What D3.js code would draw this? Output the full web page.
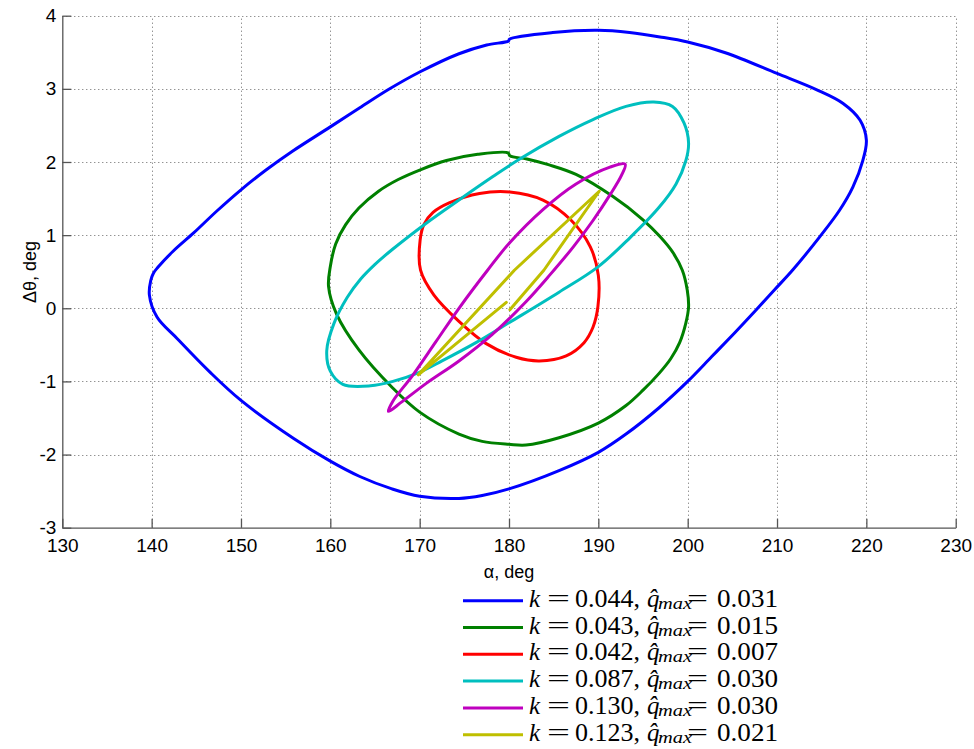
<!DOCTYPE html>
<html><head><meta charset="utf-8">
<script src="https://cdn.jsdelivr.net/npm/d3@7"></script>
<style>body{margin:0;background:#fff}</style>
</head><body>
<svg id="c" width="974" height="749"></svg>
<script>
// ---- data ----
const xTicks = [130,140,150,160,170,180,190,200,210,220,230];
const yTicks = [-3,-2,-1,0,1,2,3,4];

// [alpha (deg), delta theta (deg)]
const seriesBlue = [[139.75,0.18],[139.9,0.38],[140.2,0.48],[140.7,0.56],[142.4,0.78],[144.7,1.03],[147.3,1.33],[150,1.62],[152.8,1.89],[155.8,2.15],[160,2.48],[163.3,2.74],[166.5,2.99],[170,3.23],[174.4,3.48],[177.5,3.60],[179.95,3.655],[180.05,3.68],[184.9,3.77],[190,3.80],[193.5,3.77],[196.9,3.71],[200,3.64],[204.3,3.49],[210,3.21],[214.4,2.99],[217.4,2.80],[219.3,2.57],[220,2.30],[219.6,2.02],[218.5,1.66],[217.0,1.34],[214.8,0.98],[211.8,0.53],[209.7,0.25],[207.6,-0.03],[205.3,-0.33],[202.7,-0.66],[200,-1.0],[196.8,-1.36],[193.1,-1.72],[190,-1.97],[185.6,-2.22],[180,-2.47],[177,-2.56],[174.4,-2.60],[170,-2.57],[166.9,-2.47],[163.3,-2.30],[160,-2.09],[155.9,-1.78],[150,-1.26],[146.5,-0.87],[142.9,-0.42],[140.6,-0.12]];
const seriesGreen = [[159.8,0.30],[160.0,0.57],[160.6,0.88],[161.7,1.14],[163.2,1.37],[165.4,1.60],[167.6,1.76],[170,1.89],[173,2.02],[176.5,2.105],[179.9,2.125],[180.1,2.085],[182,2.04],[184.5,1.96],[187.5,1.83],[191.6,1.53],[195,1.21],[196.9,0.98],[198.3,0.77],[199.4,0.52],[199.95,0.25],[200.1,0.02],[199.8,-0.20],[199.1,-0.47],[198.1,-0.69],[196.8,-0.89],[195,-1.12],[193.1,-1.33],[190,-1.57],[185.6,-1.77],[181.9,-1.87],[180,-1.86],[177,-1.82],[174.4,-1.72],[170,-1.42],[166.9,-1.08],[163.2,-0.57],[160.7,-0.08]];
const seriesRed = [[170.1,0.52],[170.05,0.93],[170.5,1.15],[171.5,1.31],[173.3,1.44],[176.7,1.57],[180.1,1.59],[183.8,1.48],[186.9,1.21],[189.1,0.84],[190,0.45],[189.95,0.02],[189.4,-0.26],[188.4,-0.47],[186.4,-0.65],[183.4,-0.72],[180.8,-0.67],[177.4,-0.48],[174.4,-0.18],[171.6,0.18]];
const seriesCyan = [[159.6,-0.58],[160.4,-0.21],[161.9,0.15],[163.4,0.40],[165,0.60],[166.9,0.80],[170.7,1.16],[174.4,1.48],[178.2,1.80],[181.2,2.04],[185.6,2.35],[189.4,2.58],[193.1,2.76],[196.2,2.82],[198.3,2.76],[199.6,2.53],[200.1,2.26],[199.8,2.02],[198.7,1.70],[196.8,1.38],[193.5,0.96],[190,0.57],[185.6,0.22],[180.1,-0.19],[176.3,-0.47],[172.5,-0.72],[169.9,-0.88],[167,-1.0],[164.5,-1.06],[161.4,-1.04],[160,-0.86]];
const seriesMagenta = [[166.5,-1.41],[167,-1.27],[169.2,-0.92],[171.8,-0.46],[174.4,0.0],[177.6,0.52],[180.1,0.90],[183.8,1.35],[187.5,1.70],[191.3,1.93],[193.0,1.97],[192.6,1.82],[191.3,1.55],[189.4,1.20],[187.2,0.84],[184.6,0.46],[181.9,0.09],[178.1,-0.36],[174.4,-0.72],[170.7,-1.03],[168,-1.28]];
const seriesYellow = [[180.1,-0.02],[183.9,0.52],[190.1,1.60],[180.6,0.52],[169.85,-0.91],[179.7,0.08]];

const seriesColors = ["#0000ff","#008000","#ff0000","#00bfbf","#bf00bf","#bfbf00"];
const legendK = ["0.044","0.043","0.042","0.087","0.130","0.123"];
const legendQ = ["0.031","0.015","0.007","0.030","0.030","0.021"];

// ---- chart ----
const svg = d3.select("#c");
const L = 62.3, R = 955.7, T = 15.7, B = 527.7;
const x = d3.scaleLinear().domain([130,230]).range([L,R]);
const y = d3.scaleLinear().domain([-3,4]).range([B,T]);
const sans = "'Liberation Sans', Arial, Helvetica, sans-serif";

// grid
const grid = svg.append("g").attr("stroke","#666").attr("stroke-width",1).attr("stroke-dasharray","1,3");
grid.selectAll("line.v").data(xTicks.slice(1)).join("line")
  .attr("x1",d=>Math.round(x(d))+0.5).attr("x2",d=>Math.round(x(d))+0.5).attr("y1",B).attr("y2",T);
grid.selectAll("line.h").data(yTicks.slice(1)).join("line")
  .attr("y1",d=>Math.round(y(d))+0.5).attr("y2",d=>Math.round(y(d))+0.5).attr("x1",L).attr("x2",R);

// axes
const xAxis = d3.axisBottom(x).tickValues(xTicks).tickSizeInner(-9).tickSizeOuter(0).tickPadding(11).tickFormat(d=>String(d));
const yAxis = d3.axisLeft(y).tickValues(yTicks).tickSizeInner(-9).tickSizeOuter(0).tickPadding(6).tickFormat(d=>String(d));
const gx = svg.append("g").attr("transform",`translate(0,${B})`).call(xAxis);
const gy = svg.append("g").attr("transform",`translate(${L},0)`).call(yAxis);
[gx,gy].forEach(g=>{
  g.select(".domain").attr("stroke","#555").attr("stroke-width",1.3);
  g.selectAll(".tick line").attr("stroke","#555").attr("stroke-width",1.3);
  g.selectAll(".tick text").attr("fill","#000").style("font-family",sans).style("font-size","19px");
});

// curves
const line = d3.line().x(d=>x(d[0])).y(d=>y(d[1]));
const series = [seriesBlue,seriesGreen,seriesRed,seriesCyan,seriesMagenta,seriesYellow];
series.forEach((s,i)=>{
  const closed = i<5;
  svg.append("path").datum(s)
    .attr("d", line.curve(closed ? d3.curveCatmullRomClosed.alpha(0.5) : d3.curveLinear)(s))
    .attr("fill","none").attr("stroke",seriesColors[i]).attr("stroke-width",3)
    .attr("stroke-linejoin","round").attr("stroke-linecap","round");
});

// axis labels
svg.append("text").attr("x",(L+R)/2).attr("y",578).attr("text-anchor","middle")
  .style("font-family",sans).style("font-size","18px").text("α, deg");
svg.append("text").attr("transform","translate(36,272) rotate(-90)").attr("text-anchor","middle")
  .style("font-family",sans).style("font-size","18px").text("Δθ, deg");

// legend
const serif = "'Liberation Serif', 'Times New Roman', serif";
const lg = svg.append("g").style("font-family",serif).attr("fill","#000");
function piece(xp, yp, str, size, italic, len){
  const t = lg.append("text").attr("x",xp).attr("y",yp).style("font-size",size+"px")
    .style("font-style", italic ? "italic" : "normal").text(str);
  if (len) t.attr("textLength",len).attr("lengthAdjust","spacingAndGlyphs");
  return t;
}
legendK.forEach((k,i)=>{
  const cy = 600.7 + i*26.8;
  const bl = cy + 6;
  lg.append("line").attr("x1",463).attr("x2",523).attr("y1",cy).attr("y2",cy)
    .attr("stroke",seriesColors[i]).attr("stroke-width",3);
  piece(529, bl, "k", 25, true);
  piece(547, bl, "=", 25, false, 23);
  piece(575, bl, k+",", 25, false, 65);
  piece(647, bl, "q\u0302", 25, true);
  piece(658, bl+2, "max", 17, true, 34);
  piece(687, bl, "=", 25, false, 21);
  piece(717, bl, legendQ[i], 25, false, 61);
});
</script>
</body></html>
